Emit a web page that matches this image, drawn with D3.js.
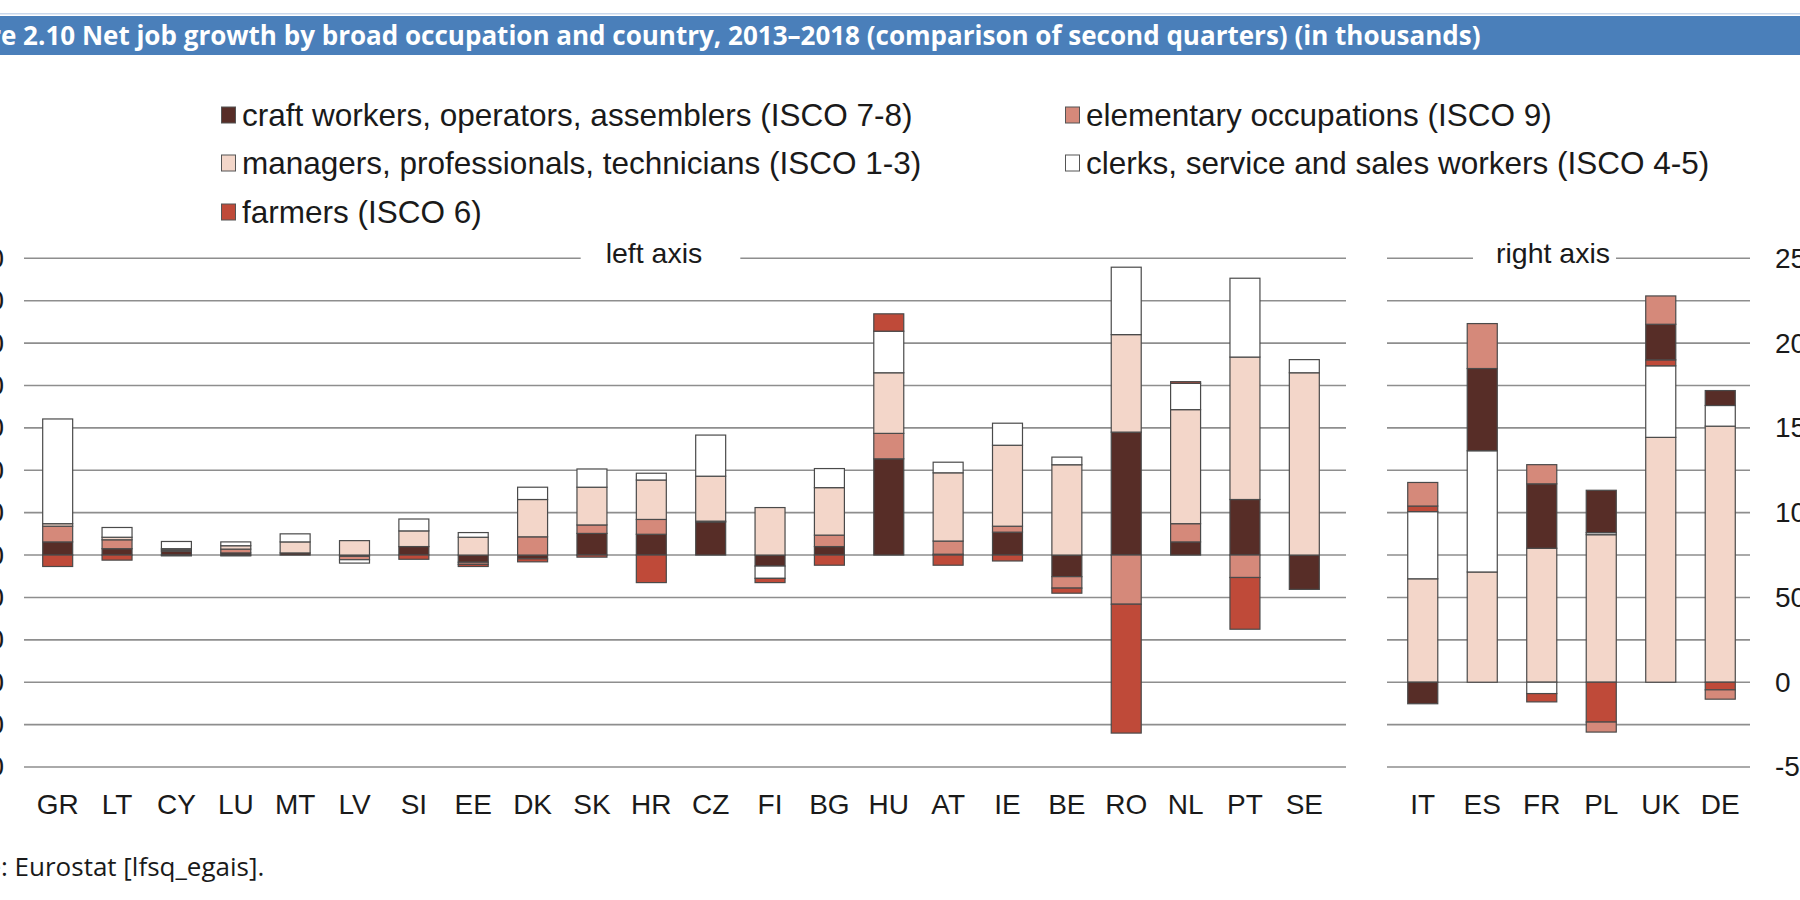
<!DOCTYPE html>
<html>
<head>
<meta charset="utf-8">
<script src="https://cdn.jsdelivr.net/npm/d3@7"></script>
<style>
  html, body { margin: 0; padding: 0; background: #ffffff; overflow: hidden; }
  svg { display: block; }
</style>
</head>
<body>
<svg id="chart" width="1800" height="900"></svg>
<script>
// ---------------- DATA ----------------
const titleText = "Figure 2.10 Net job growth by broad occupation and country, 2013\u20132018 (comparison of second quarters) (in thousands)";
const sourceText = "Source: Eurostat [lfsq_egais].";

const seriesKeys = ["craft", "elementary", "managers", "clerks", "farmers"];
const seriesLabels = [
  "craft workers, operators, assemblers (ISCO 7-8)",
  "elementary occupations (ISCO 9)",
  "managers, professionals, technicians (ISCO 1-3)",
  "clerks, service and sales workers (ISCO 4-5)",
  "farmers (ISCO 6)"
];
const seriesColors = ["#572d27", "#d5897a", "#f3d6c9", "#ffffff", "#bf4a39"];

const leftCountries = ["GR","LT","CY","LU","MT","LV","SI","EE","DK","SK","HR","CZ","FI","BG","HU","AT","IE","BE","RO","NL","PT","SE"];
const leftCraft      = [3.1, 1.5, 0.9, 0.5, 0.5, -0.3, 2.0, -1.7, -0.9, 5.1, 4.9, 7.8, -2.6, 2.0, 22.7, 0.2, 5.4, -5.1, 29.0, 3.1, 13.1, -8.1];
const leftElementary = [3.7, 2.1, 0.3, 0.9, 0.0, -0.8, 0.0, -0.5, 4.3, 2.0, 3.5, 0.2, 0.0, 2.7, 6.0, 3.1, 1.4, -2.7, -11.6, 4.3, -5.3, 0.0];
const leftManagers   = [0.6, 0.6, 0.3, 0.8, 2.6, 3.4, 3.7, 4.2, 8.8, 8.9, 9.3, 10.6, 11.2, 11.2, 14.3, 16.1, 19.1, 21.3, 23.0, 26.9, 33.6, 43.0];
const leftClerks     = [24.7, 2.3, 1.7, 0.9, 1.9, -0.8, 2.8, 1.1, 2.9, 4.3, 1.6, 9.7, -2.9, 4.5, 9.8, 2.5, 5.2, 1.8, 15.9, 6.2, 18.6, 3.1];
const leftFarmers    = [-2.7, -1.2, -0.2, -0.2, 0.0, 0.0, -1.0, -0.5, -0.7, -0.5, -6.5, 0.0, -1.0, -2.4, 4.1, -2.4, -1.4, -1.2, -30.4, 0.4, -12.2, 0.0];

const rightCountries  = ["IT","ES","FR","PL","UK","DE"];
const rightManagers   = [61.0, 65.0, 79.0, 87.0, 144.4, 151.0];
const rightClerks     = [39.6, 71.5, -6.7, 1.2, 42.2, 12.2];
const rightFarmers    = [3.3, 0.0, -4.9, -23.5, 3.5, -4.5];
const rightCraft      = [-12.7, 48.5, 38.0, 25.0, 21.0, 8.8];
const rightElementary = [13.9, 26.5, 11.3, -5.9, 16.7, -5.5];

const leftTicks  = [-50, -40, -30, -20, -10, 0, 10, 20, 30, 40, 50, 60, 70];
const rightGrid  = [-50, -25, 0, 25, 50, 75, 100, 125, 150, 175, 200, 225, 250];
const rightTicks = [-50, 0, 50, 100, 150, 200, 250];

// ---------------- BUILD TABLES ----------------
const leftRows = leftCountries.map((c, i) => ({
  country: c, craft: leftCraft[i], elementary: leftElementary[i],
  managers: leftManagers[i], clerks: leftClerks[i], farmers: leftFarmers[i]
}));
const rightRows = rightCountries.map((c, i) => ({
  country: c, craft: rightCraft[i], elementary: rightElementary[i],
  managers: rightManagers[i], clerks: rightClerks[i], farmers: rightFarmers[i]
}));
const leftOrder  = ["craft", "elementary", "managers", "clerks", "farmers"];
const rightOrder = ["managers", "clerks", "farmers", "craft", "elementary"];
const colorOf = d3.scaleOrdinal().domain(seriesKeys).range(seriesColors);

// ---------------- LAYOUT ----------------
const svg = d3.select("#chart");
const FONT = "'Liberation Sans', Arial, Helvetica, sans-serif";
const yTop = 258.3, yBot = 767;

const yL = d3.scaleLinear().domain([-50, 70]).range([yBot, yTop]);
const yR = d3.scaleLinear().domain([-50, 250]).range([yBot, yTop]);

const xL = d3.scaleBand().domain(leftCountries).range([28, 1334]).paddingInner(0.495).paddingOuter(0.2475);
const xR = d3.scaleBand().domain(rightCountries).range([1393, 1750]).paddingInner(0.495).paddingOuter(0.2475);

const gridL = [24, 1346], gridR = [1387, 1750];
const gridColor = "#8e8e8e";

// ---------------- TITLE BAR ----------------
svg.append("rect").attr("x", 0).attr("y", 13).attr("width", 1800).attr("height", 1.5).attr("fill", "#c9d8ec");
svg.append("rect").attr("x", 0).attr("y", 16).attr("width", 1800).attr("height", 39).attr("fill", "#4a7fba");
const title = svg.append("text")
  .attr("font-family", "'Open Sans', 'DejaVu Sans', sans-serif")
  .attr("font-weight", 700)
  .attr("font-size", 26)
  .attr("fill", "#ffffff")
  .text(titleText);
{
  const node = title.node();
  const full = node.getComputedTextLength();
  const pre = node.getSubStringLength(0, 5);
  const sx = 1480 / (full - pre);
  title.attr("transform", `translate(${-pre * sx + 1},45) scale(${sx},1)`);
}

// ---------------- LEGEND ----------------
const legendPos = [
  {x: 221, y: 115}, {x: 1065, y: 115},
  {x: 221, y: 163}, {x: 1065, y: 163},
  {x: 221, y: 212}
];
const legend = svg.append("g");
seriesKeys.forEach((k, i) => {
  const p = legendPos[i];
  const g = legend.append("g").attr("transform", `translate(${p.x},${p.y})`);
  g.append("rect").attr("x", 0.5).attr("y", -8).attr("width", 14).attr("height", 16)
    .attr("fill", colorOf(k)).attr("stroke", "#555").attr("stroke-width", 1);
  g.append("text").attr("x", 21).attr("y", 11)
    .attr("font-family", FONT).attr("font-size", 31.5).attr("fill", "#1a1a1a")
    .text(seriesLabels[i]);
});

// ---------------- GRIDLINES ----------------
const grid = svg.append("g");
grid.selectAll("line.gl").data(leftTicks.filter(v => v !== 70)).join("line")
  .attr("x1", gridL[0]).attr("x2", gridL[1])
  .attr("y1", d => yL(d)).attr("y2", d => yL(d))
  .attr("stroke", gridColor).attr("stroke-width", 1.6);
grid.selectAll("line.gr").data(rightGrid.filter(v => v !== 250)).join("line")
  .attr("x1", gridR[0]).attr("x2", gridR[1])
  .attr("y1", d => yR(d)).attr("y2", d => yR(d))
  .attr("stroke", gridColor).attr("stroke-width", 1.6);

function panelLabel(text, cx, range, padL, padR, yv) {
  const t = svg.append("text").attr("x", cx).attr("y", yv + 5).attr("text-anchor", "middle")
    .attr("font-family", FONT).attr("font-size", 28.5).attr("fill", "#1a1a1a").text(text);
  const bb = t.node().getBBox();
  grid.append("line").attr("x1", range[0]).attr("x2", bb.x - padL).attr("y1", yv).attr("y2", yv)
    .attr("stroke", gridColor).attr("stroke-width", 1.6);
  grid.append("line").attr("x1", bb.x + bb.width + padR).attr("x2", range[1]).attr("y1", yv).attr("y2", yv)
    .attr("stroke", gridColor).attr("stroke-width", 1.6);
}
panelLabel("left axis", 654, gridL, 25, 38, yL(70));
panelLabel("right axis", 1553, gridR, 23, 6, yR(250));

// ---------------- BARS ----------------
function drawBars(rows, order, x, y) {
  const stack = d3.stack().keys(order).offset(d3.stackOffsetDiverging);
  const layers = stack(rows);
  const g = svg.append("g");
  layers.forEach(layer => {
    g.selectAll(null).data(layer.filter(d => Math.abs(d[1] - d[0]) > 1e-9)).join("rect")
      .attr("x", d => x(d.data.country))
      .attr("width", x.bandwidth())
      .attr("y", d => y(Math.max(d[0], d[1])))
      .attr("height", d => Math.abs(y(d[0]) - y(d[1])))
      .attr("fill", colorOf(layer.key))
      .attr("stroke", "#4a4a4a")
      .attr("stroke-width", 1.2);
  });
}
drawBars(leftRows, leftOrder, xL, yL);
drawBars(rightRows, rightOrder, xR, yR);

// ---------------- AXES ----------------
function styleAxis(g, size) {
  g.select(".domain").remove();
  g.selectAll("text").attr("font-family", FONT).attr("font-size", size).attr("fill", "#1a1a1a");
}
const plainNum = d => String(d);
svg.append("g").attr("transform", `translate(0,${yBot})`)
  .call(d3.axisBottom(xL).tickSize(0).tickPadding(27))
  .call(g => styleAxis(g, 28));
svg.append("g").attr("transform", `translate(0,${yBot})`)
  .call(d3.axisBottom(xR).tickSize(0).tickPadding(27))
  .call(g => styleAxis(g, 28));
svg.append("g").attr("transform", "translate(4,0)")
  .call(d3.axisLeft(yL).tickValues(leftTicks).tickSize(0).tickPadding(0).tickFormat(plainNum))
  .call(g => styleAxis(g, 28));
svg.append("g").attr("transform", "translate(1775,0)")
  .call(d3.axisRight(yR).tickValues(rightTicks).tickSize(0).tickPadding(0).tickFormat(plainNum))
  .call(g => styleAxis(g, 28));

// ---------------- SOURCE ----------------
const src = svg.append("text")
  .attr("font-family", "'Open Sans', 'DejaVu Sans', sans-serif")
  .attr("font-size", 26).attr("fill", "#1a1a1a").attr("y", 876)
  .text(sourceText);
{
  const w = src.node().getSubStringLength(0, 6);
  src.attr("x", -w + 1);
}
</script>
</body>
</html>
